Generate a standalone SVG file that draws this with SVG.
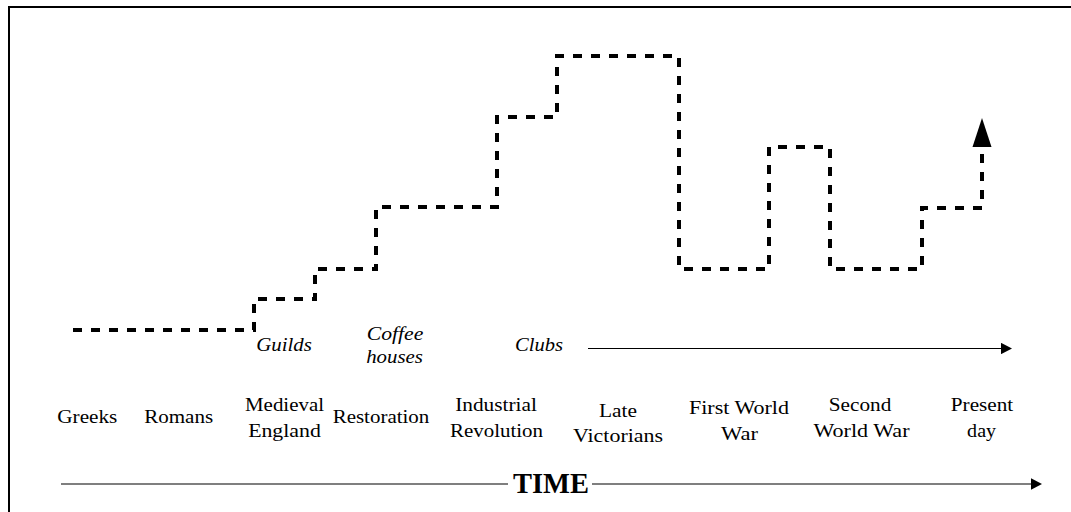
<svg xmlns="http://www.w3.org/2000/svg" width="1071" height="512" viewBox="0 0 1071 512">
<style>
text{font-family:'Liberation Serif','Times New Roman',Times,serif}
.lbl{font-size:19px;fill:#000;text-anchor:middle}
.it{font-style:italic}
.time{font-size:29px;font-weight:bold;fill:#000}
.thin{stroke:#000;stroke-width:1.2;fill:none}
.dash{stroke:#000;stroke-width:4;fill:none;stroke-dasharray:9 9}
</style>
<defs>
<marker id="ah" markerUnits="userSpaceOnUse" viewBox="0 0 11 11.4" markerWidth="11" markerHeight="11.4" refX="3" refY="5.7" orient="auto">
<path d="M0,0 L11,5.7 L0,11.4 z" fill="#000" stroke="none"/>
</marker>
<marker id="bh" markerUnits="userSpaceOnUse" viewBox="0 -10 30 20" markerWidth="30" markerHeight="20" refX="0" refY="0" orient="auto">
<path d="M0,-9.5 L29,0 L0,9.5 z" fill="#000" stroke="none"/>
</marker>
</defs>
<rect x="0" y="0" width="1071" height="512" fill="#fff"/>
<rect x="9" y="7" width="1080" height="530" fill="none" stroke="#000" stroke-width="2"/>

<g id="connectors">
<path class="dash" d="M73,330 H254 V299 H315 V269 H376 V207 H497 V117 H557 V56 H679 V269 H769 V147 H830 V269 H922 V208 H982 V147" marker-end="url(#bh)"/>
<path class="thin" d="M588,348.5 H1004" marker-end="url(#ah)"/>
<path class="thin" d="M61,484 H508"/>
<path class="thin" d="M592,484 H1034" marker-end="url(#ah)"/>
</g>

<g id="greeks"><text class="lbl" font-family="Liberation Serif" x="87.3" y="423.3" textLength="60" lengthAdjust="spacingAndGlyphs">Greeks</text></g>
<g id="romans"><text class="lbl" font-family="Liberation Serif" x="178.7" y="423.3" textLength="69" lengthAdjust="spacingAndGlyphs">Romans</text></g>
<g id="medieval-england" font-family="Liberation Serif">
<text class="lbl" x="284.5" y="411" textLength="79" lengthAdjust="spacingAndGlyphs">Medieval</text>
<text class="lbl" x="284.5" y="436.7" textLength="72.7" lengthAdjust="spacingAndGlyphs">England</text>
</g>
<g id="restoration"><text class="lbl" x="381" y="423.3" textLength="96.6" lengthAdjust="spacingAndGlyphs">Restoration</text></g>
<g id="industrial-revolution">
<text class="lbl" x="496" y="411" textLength="81.7" lengthAdjust="spacingAndGlyphs">Industrial</text>
<text class="lbl" x="496.5" y="436.7" textLength="93" lengthAdjust="spacingAndGlyphs">Revolution</text>
</g>
<g id="late-victorians">
<text class="lbl" x="618" y="416.7" textLength="38" lengthAdjust="spacingAndGlyphs">Late</text>
<text class="lbl" x="618" y="442" textLength="90" lengthAdjust="spacingAndGlyphs">Victorians</text>
</g>
<g id="first-world-war">
<text class="lbl" x="739" y="414" textLength="100" lengthAdjust="spacingAndGlyphs">First World</text>
<text class="lbl" x="739.5" y="440" textLength="37" lengthAdjust="spacingAndGlyphs">War</text>
</g>
<g id="second-world-war">
<text class="lbl" x="860" y="411" textLength="62.5" lengthAdjust="spacingAndGlyphs">Second</text>
<text class="lbl" x="861.5" y="436.7" textLength="96" lengthAdjust="spacingAndGlyphs">World War</text>
</g>
<g id="present-day">
<text class="lbl" x="982" y="411" textLength="62.4" lengthAdjust="spacingAndGlyphs">Present</text>
<text class="lbl" x="981.6" y="437" textLength="29" lengthAdjust="spacingAndGlyphs">day</text>
</g>
<g id="guilds"><text class="lbl it" x="284" y="351" textLength="55.7" lengthAdjust="spacingAndGlyphs">Guilds</text></g>
<g id="coffee-houses">
<text class="lbl it" x="395" y="340" textLength="56.6" lengthAdjust="spacingAndGlyphs">Coffee</text>
<text class="lbl it" x="394.5" y="363.3" textLength="56.7" lengthAdjust="spacingAndGlyphs">houses</text>
</g>
<g id="clubs"><text class="lbl it" x="539" y="351" textLength="48" lengthAdjust="spacingAndGlyphs">Clubs</text></g>
<g id="time"><text class="time" x="513" y="492.7" textLength="76" lengthAdjust="spacingAndGlyphs">TIME</text></g>
</svg>
